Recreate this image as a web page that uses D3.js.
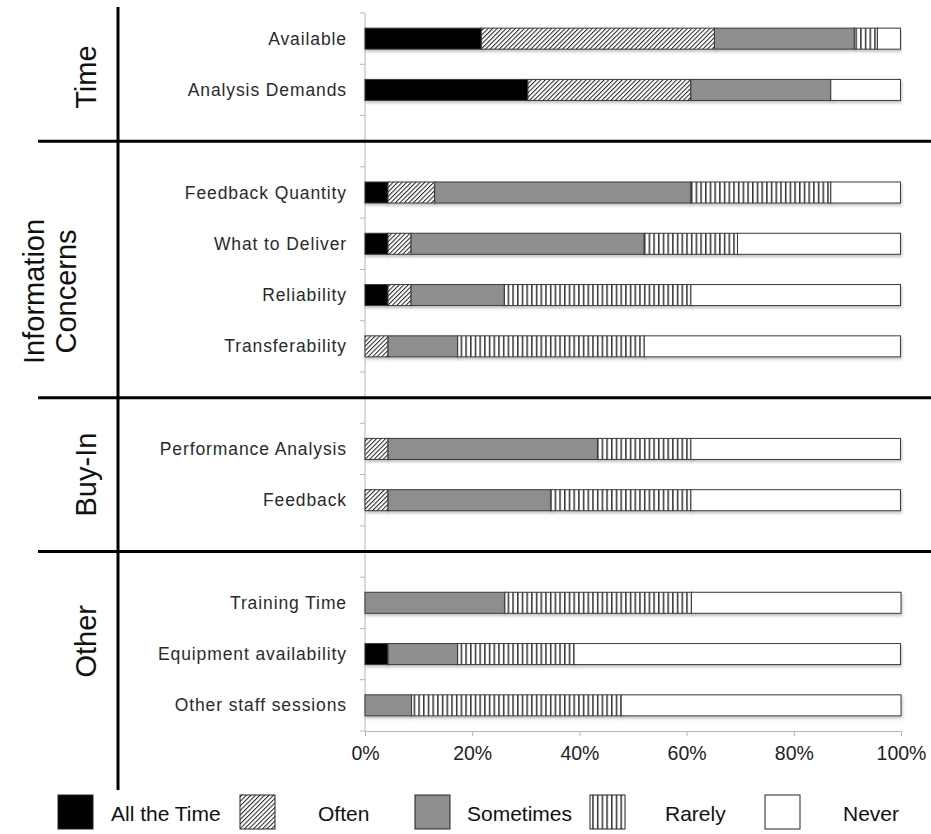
<!DOCTYPE html>
<html>
<head>
<meta charset="utf-8">
<script src="https://cdn.jsdelivr.net/npm/d3@7"></script>
<style>
  body { margin: 0; background: #fff; }
  svg { font-family: "Liberation Sans", Arial, Helvetica, sans-serif; }
</style>
</head>
<body>
<div id="chart"></div>
<script>
// categories, grouped
var groups = ["Time", "Information Concerns", "Buy-In", "Other"];
var groupItems = [
    ["Available", "Analysis Demands"],
    ["Feedback Quantity", "What to Deliver", "Reliability", "Transferability"],
    ["Performance Analysis", "Feedback"],
    ["Training Time", "Equipment availability", "Other staff sessions"]
];
var categories = [].concat.apply([], groupItems);

// series, percent of respondents
var seriesNames = ["All the Time", "Often", "Sometimes", "Rarely", "Never"];
var allTheTime = [21.7, 30.4, 4.3, 4.3, 4.3, 0, 0, 0, 0, 4.3, 0];
var often      = [43.5, 30.4, 8.7, 4.3, 4.3, 4.3, 4.3, 4.3, 0, 0, 0];
var sometimes  = [26.1, 26.1, 47.8, 43.5, 17.4, 13.0, 39.1, 30.4, 26.1, 13.0, 8.7];
var rarely     = [4.3, 0, 26.1, 17.4, 34.8, 34.8, 17.4, 26.1, 34.8, 21.7, 39.1];
var never      = [4.3, 13.0, 13.0, 30.4, 39.1, 47.8, 39.1, 39.1, 39.1, 60.9, 52.2];

var xTicks = [0, 20, 40, 60, 80, 100];

var W = 931, H = 834;
var svg = d3.select("#chart").append("svg").attr("width", W).attr("height", H);
var defs = svg.append("defs");

// patterns
var hatch = defs.append("pattern").attr("id", "hatch").attr("patternUnits", "userSpaceOnUse")
    .attr("width", 3.2).attr("height", 3.2).attr("patternTransform", "rotate(45)");
hatch.append("rect").attr("width", 3.2).attr("height", 3.2).attr("fill", "#fff");
hatch.append("line").attr("x1", 0.5).attr("y1", 0).attr("x2", 0.5).attr("y2", 3.2)
    .attr("stroke", "#222").attr("stroke-width", 1);

var vlines = defs.append("pattern").attr("id", "vlines").attr("patternUnits", "userSpaceOnUse")
    .attr("width", 4.7).attr("height", 10);
vlines.append("rect").attr("width", 4.7).attr("height", 10).attr("fill", "#fff");
vlines.append("line").attr("x1", 0.8).attr("y1", 0).attr("x2", 0.8).attr("y2", 10)
    .attr("stroke", "#111").attr("stroke-width", 1.3);

var shadow = defs.append("filter").attr("id", "shadow").attr("x", "-5%").attr("y", "-30%")
    .attr("width", "110%").attr("height", "180%");
shadow.append("feDropShadow").attr("dx", 1).attr("dy", 2).attr("stdDeviation", 1.5)
    .attr("flood-color", "#000").attr("flood-opacity", 0.25);

var fills = ["#000", "url(#hatch)", "#8e8e8e", "url(#vlines)", "#fff"];

// rows: categories with a gap slot between groups
var rows = [];
groups.forEach(function(g, i) {
    if (i > 0) rows.push("gap" + i);
    groupItems[i].forEach(function(c) { rows.push(c); });
});

var x = d3.scaleLinear().domain([0, 100]).range([365, 901]);
var y = d3.scaleBand().domain(rows).range([13, 731]).paddingInner(0.59).paddingOuter(0.295);
var step = y.step(), bw = y.bandwidth();

// stacked data
var table = categories.map(function(c, i) {
    return { cat: c, "All the Time": allTheTime[i], "Often": often[i], "Sometimes": sometimes[i], "Rarely": rarely[i], "Never": never[i] };
});
var stack = d3.stack().keys(seriesNames)(table);

// y axis (light grey line with ticks at row boundaries)
var yAxisG = svg.append("g");
yAxisG.append("line").attr("x1", x(0)).attr("x2", x(0)).attr("y1", 13).attr("y2", 731)
    .attr("stroke", "#b5b5b5").attr("stroke-width", 1);
yAxisG.selectAll("line.tk").data(d3.range(rows.length + 1)).enter().append("line")
    .attr("class", "tk")
    .attr("x1", x(0) - 5).attr("x2", x(0))
    .attr("y1", function(i) { return 13 + i * step; })
    .attr("y2", function(i) { return 13 + i * step; })
    .attr("stroke", "#b5b5b5");

// bars
var layers = svg.append("g").selectAll("g").data(stack).enter().append("g")
    .attr("fill", function(d, i) { return fills[i]; });
layers.selectAll("rect").data(function(d) { return d; }).enter().append("rect")
    .filter(function(d) { return d[1] - d[0] > 0; })
    .attr("x", function(d) { return x(d[0]); })
    .attr("width", function(d) { return x(d[1]) - x(d[0]); })
    .attr("y", function(d) { return y(d.data.cat); })
    .attr("height", bw)
    .attr("stroke", "#3a3a3a").attr("stroke-width", 1)
    .attr("filter", "url(#shadow)");

// category labels
svg.append("g").selectAll("text").data(categories).enter().append("text")
    .attr("x", 347)
    .attr("y", function(d) { return y(d) + bw / 2 + 6; })
    .attr("text-anchor", "end")
    .attr("font-size", 17.5).attr("letter-spacing", 0.9).attr("fill", "#2a2a2a")
    .text(function(d) { return d; });

// x axis
var xAxis = svg.append("g").attr("transform", "translate(0,731)")
    .call(d3.axisBottom(x).tickValues(xTicks).tickFormat(function(d) { return d + "%"; }).tickSize(5).tickSizeOuter(0));
xAxis.select(".domain").attr("stroke", "#b5b5b5");
xAxis.selectAll(".tick line").attr("stroke", "#b5b5b5");
xAxis.selectAll(".tick text").attr("font-family", "Liberation Sans, Arial, sans-serif")
    .attr("font-size", 19.5).attr("fill", "#222").attr("y", 15);

// group frame
svg.append("line").attr("x1", 118).attr("x2", 118).attr("y1", 7).attr("y2", 790)
    .attr("stroke", "#000").attr("stroke-width", 3);
var seps = rows.filter(function(r) { return r.indexOf("gap") === 0; });
svg.selectAll("line.sep").data(seps).enter().append("line").attr("class", "sep")
    .attr("x1", 38).attr("x2", W)
    .attr("y1", function(d) { return y(d) + bw / 2; })
    .attr("y2", function(d) { return y(d) + bw / 2; })
    .attr("stroke", "#000").attr("stroke-width", 3);

// group labels, centred on their sections (two-line label nudged down as in the original)
groups.forEach(function(g, i) {
    var top = i === 0 ? 13 : y(seps[i - 1]) + bw / 2;
    var bot = i === groups.length - 1 ? 731 : y(seps[i]) + bw / 2;
    var lines = g === "Information Concerns" ? ["Information", "Concerns"] : [g];
    var cy = (top + bot) / 2 + (lines.length > 1 ? 22 : 0);
    var t = svg.append("text").attr("transform", "translate(" + (lines.length > 1 ? 64 : 96) + "," + cy + ") rotate(-90)")
        .attr("text-anchor", "middle").attr("font-size", 29).attr("fill", "#111");
    lines.forEach(function(l, k) {
        t.append("tspan").attr("x", 0).attr("y", (k - lines.length + 1) * 32 + (lines.length > 1 ? 12 : 0)).text(l);
    });
});

// legend
var legX = [58, 240, 415, 590, 765];
var legTextX = [111, 318, 467, 665, 843];
var leg = svg.append("g").selectAll("g").data(seriesNames).enter().append("g");
leg.append("rect")
    .attr("x", function(d, i) { return legX[i]; }).attr("y", 795)
    .attr("width", 35).attr("height", 34)
    .attr("fill", function(d, i) { return fills[i]; })
    .attr("stroke", "#222").attr("stroke-width", 1);
leg.append("text")
    .attr("x", function(d, i) { return legTextX[i]; }).attr("y", 821)
    .attr("font-size", 21).attr("fill", "#111")
    .text(function(d) { return d; });
</script>
</body>
</html>
